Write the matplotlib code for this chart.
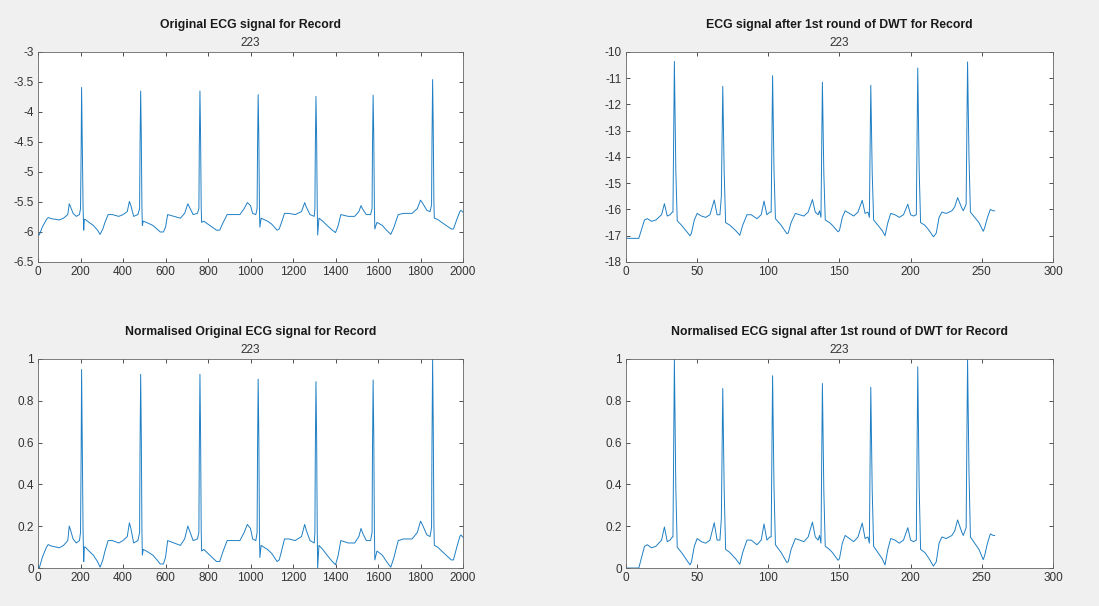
import matplotlib
matplotlib.use("Agg")
import matplotlib.pyplot as plt
from matplotlib.ticker import FuncFormatter
import numpy as np

plt.rcParams["font.family"] = ["Liberation Sans", "DejaVu Sans"]
plt.rcParams["axes.unicode_minus"] = False

record = "223"

# original ECG (sample index, amplitude)
orig_x = [0, 6, 20, 40, 48, 65, 85, 100, 120, 140, 147, 153, 165, 180, 195, 200, 203, 205, 208, 212, 215, 218,
          222, 240, 260, 280, 292, 305, 315, 330, 350, 380, 400, 420, 430, 437, 450, 470, 478, 480, 483, 486, 489,
          491, 495, 510, 540, 560, 575, 590, 600, 610, 640, 670, 690, 705, 712, 730, 750, 757, 759, 762, 765, 768,
          770, 780, 800, 820, 840, 855, 870, 890, 930, 950, 970, 985, 1000, 1010, 1025, 1031, 1033, 1036, 1039,
          1042, 1044, 1050, 1080, 1100, 1125, 1135, 1145, 1160, 1180, 1210, 1240, 1255, 1262, 1280, 1300, 1303,
          1305, 1308, 1311, 1314, 1316, 1322, 1340, 1360, 1385, 1400, 1412, 1425, 1460, 1490, 1510, 1520, 1528,
          1545, 1565, 1572, 1574, 1577, 1580, 1583, 1585, 1595, 1620, 1640, 1660, 1675, 1695, 1720, 1760, 1785,
          1800, 1810, 1830, 1845, 1852, 1854, 1857, 1860, 1863, 1865, 1880, 1900, 1920, 1945, 1955, 1970, 1985,
          1990, 2000]
orig_y = [-6.02, -6.05, -5.92, -5.79, -5.76, -5.78, -5.79, -5.80, -5.77, -5.71, -5.53, -5.58, -5.69, -5.74, -5.71,
          -5.61, -4.6, -3.59, -4.4, -5.6, -5.97, -5.79,
          -5.79, -5.84, -5.89, -5.97, -6.04, -5.95, -5.84, -5.71, -5.71, -5.74, -5.71, -5.66, -5.49, -5.56, -5.74,
          -5.71, -5.61, -4.6, -3.65, -4.4, -5.6,
          -5.89, -5.82, -5.84, -5.89, -5.95, -6.00, -6.00, -5.92, -5.71, -5.74, -5.77, -5.69, -5.53, -5.58, -5.71,
          -5.69, -5.61, -4.6, -3.65, -4.4, -5.6,
          -5.84, -5.82, -5.87, -5.92, -5.97, -5.97, -5.85, -5.71, -5.71, -5.71, -5.61, -5.51, -5.56, -5.69, -5.71,
          -5.61, -4.6, -3.71, -4.4,
          -5.6, -5.92, -5.77, -5.82, -5.87, -5.97, -5.95, -5.85, -5.69, -5.69, -5.71, -5.66, -5.51, -5.58, -5.71,
          -5.74, -5.61,
          -4.6, -3.74, -4.4, -5.6, -6.05, -5.77, -5.82, -5.89, -5.97, -6.01, -5.90, -5.71, -5.74, -5.74, -5.66,
          -5.56, -5.62,
          -5.71, -5.71, -5.61, -4.6, -3.72, -4.4, -5.6, -5.95, -5.84, -5.89, -5.97, -6.04, -5.92, -5.71, -5.69,
          -5.69, -5.61,
          -5.47, -5.52, -5.64, -5.66, -5.55, -4.5, -3.46, -4.3, -5.5, -5.77, -5.79, -5.84, -5.89, -5.95, -5.95,
          -5.80, -5.66,
          -5.64, -5.67]

# approximation after the DWT round (coefficient index, amplitude)
dwt_x = [0, 9, 13, 15, 18, 21, 23, 25, 27, 29, 31, 32.5, 33, 34, 35, 36, 39, 42, 45, 46, 48, 50, 53, 56, 59, 62,
         64, 66, 67, 68, 69, 70, 73, 77, 80, 82, 85, 88, 92, 95, 97, 99, 101, 102, 103, 104, 105, 109, 113, 114,
         116, 119, 122, 125, 128, 131, 133, 135, 136, 137, 138, 139, 140, 143, 145, 149, 150, 152, 154, 157, 160,
         163, 166, 168, 170, 171, 172, 173, 174, 177, 180, 182, 184, 186, 189, 192, 195, 198, 200, 202, 204, 205,
         206, 207, 210, 213, 216, 218, 220, 222, 225, 229, 231, 233, 236, 237, 239, 240, 241, 242, 245, 248, 251,
         252, 254, 256, 258, 259]
dwt_y = [-17.1, -17.1, -16.4, -16.35, -16.45, -16.4, -16.3, -16.2, -15.78, -16.25, -16.2, -16.1, -16.1, -10.36,
         -14.5, -16.43, -16.6, -16.8, -17.0, -16.9, -16.4, -16.15, -16.25, -16.3, -16.2, -15.64,
         -16.2, -16.2, -15.5, -11.31, -14.6, -16.5, -16.6, -16.8, -16.98, -16.6, -16.2, -16.2, -16.35, -16.2,
         -15.68, -16.2, -16.1, -16.1, -10.9, -14.5, -16.35, -16.6, -16.92, -16.9,
         -16.5, -16.15, -16.2, -16.25, -16.1, -15.62, -16.1, -16.2, -16.05, -16.3, -11.15, -14.6, -16.4, -16.5,
         -16.6, -16.85, -16.8, -16.3, -16.05, -16.15, -16.25,
         -16.1, -15.65, -16.15, -16.1, -16.3, -11.27, -14.6, -16.4, -16.6, -16.8, -17.0, -16.5, -16.15, -16.2,
         -16.3, -16.2, -15.8, -16.2, -16.25, -16.2, -10.61,
         -14.5, -16.5, -16.6, -16.8, -17.04, -16.9, -16.3, -16.1, -16.15, -16.05, -15.9, -15.55, -15.95, -16.05,
         -15.8, -10.38, -14.0, -16.1, -16.3, -16.5, -16.83,
         -16.7, -16.3, -16.0, -16.05, -16.05]


def normalise(v):
    v = np.asarray(v, dtype=float)
    return (v - v.min()) / (v.max() - v.min())


line_col = "#1f7fc4"
txt_col = "#333333"

fig = plt.figure(figsize=(10.99, 6.06), dpi=100, facecolor="#f0f0f0")

axes_pos = [[0.0346, 0.5677, 0.3867, 0.3465],
            [0.5696, 0.5677, 0.3885, 0.3465],
            [0.0346, 0.0627, 0.3867, 0.3449],
            [0.5696, 0.0627, 0.3885, 0.3449]]

panels = [
    ("Original ECG signal for Record", orig_x, orig_y, (0, 2000), range(0, 2001, 200), (-6.5, -3), np.arange(-6.5, -2.99, 0.5)),
    ("ECG signal after 1st round of DWT for Record", dwt_x, dwt_y, (0, 300), range(0, 301, 50), (-18, -10), range(-18, -9)),
    ("Normalised Original ECG signal for Record", orig_x, normalise(orig_y), (0, 2000), range(0, 2001, 200), (0, 1), np.arange(0, 1.01, 0.2)),
    ("Normalised ECG signal after 1st round of DWT for Record", dwt_x, normalise(dwt_y), (0, 300), range(0, 301, 50), (0, 1), np.arange(0, 1.01, 0.2)),
]

fmt = FuncFormatter(lambda v, p: "%g" % round(v, 2))

for pos, (title, xs, ys, xl, xt, yl, yt) in zip(axes_pos, panels):
    ax = fig.add_axes(pos)
    ax.plot(xs, ys, color=line_col, lw=0.7)
    ax.set_xlim(*xl)
    ax.set_ylim(*yl)
    ax.set_xticks(list(xt))
    ax.set_yticks(list(yt))
    ax.xaxis.set_major_formatter(fmt)
    ax.yaxis.set_major_formatter(fmt)
    ax.tick_params(direction="in", length=3, width=0.6, top=True, right=True,
                   labelsize=8.5, colors=txt_col, pad=3)
    for s in ax.spines.values():
        s.set_color("#666666")
        s.set_linewidth(0.6)
    ax.text(0.5, 1.13, title, transform=ax.transAxes, ha="center", va="center",
            fontsize=8.8, fontweight="bold", color="#1a1a1a")
    ax.text(0.5, 1.045, record, transform=ax.transAxes, ha="center", va="center",
            fontsize=8.5, color=txt_col)

fig.savefig("out.png", dpi=100, facecolor=fig.get_facecolor())
